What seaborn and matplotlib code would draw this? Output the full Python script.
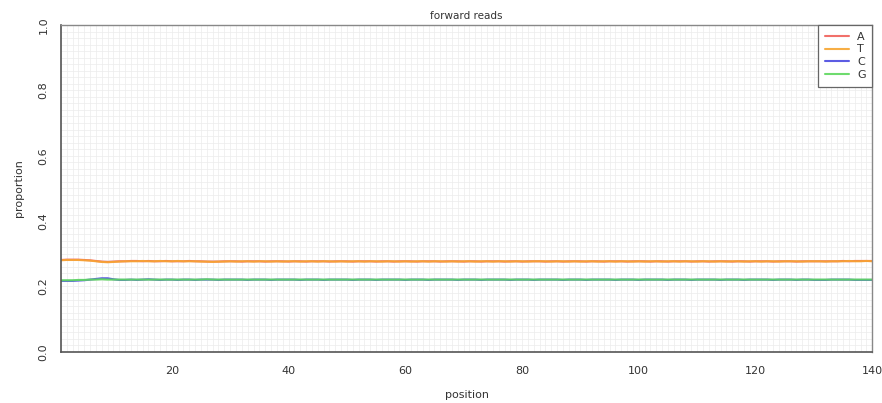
import numpy as np
import pandas as pd
import matplotlib
matplotlib.use("Agg")
import matplotlib.pyplot as plt
import seaborn as sns
from matplotlib.ticker import MultipleLocator

# Per-position base composition of the forward reads
positions = list(range(1, 141))

prop_A = [
    0.281, 0.282, 0.282, 0.282, 0.281, 0.280, 0.278, 0.276, 0.275, 0.276,
    0.277, 0.277, 0.278, 0.278, 0.277, 0.278, 0.277, 0.277, 0.278, 0.277,
    0.277, 0.277, 0.278, 0.277, 0.277, 0.276, 0.276, 0.276, 0.277, 0.277,
    0.277, 0.276, 0.277, 0.277, 0.277, 0.276, 0.277, 0.277, 0.277, 0.276,
    0.277, 0.277, 0.276, 0.277, 0.277, 0.277, 0.276, 0.277, 0.277, 0.277,
    0.276, 0.277, 0.277, 0.277, 0.276, 0.277, 0.277, 0.276, 0.277, 0.277,
    0.277, 0.276, 0.277, 0.277, 0.277, 0.276, 0.277, 0.277, 0.277, 0.276,
    0.277, 0.277, 0.276, 0.277, 0.277, 0.277, 0.276, 0.277, 0.277, 0.276,
    0.277, 0.277, 0.277, 0.276, 0.277, 0.277, 0.276, 0.277, 0.277, 0.277,
    0.276, 0.277, 0.277, 0.276, 0.277, 0.277, 0.277, 0.276, 0.277, 0.277,
    0.277, 0.276, 0.277, 0.277, 0.276, 0.277, 0.277, 0.277, 0.276, 0.277,
    0.277, 0.276, 0.277, 0.277, 0.277, 0.276, 0.277, 0.277, 0.276, 0.277,
    0.277, 0.277, 0.276, 0.277, 0.277, 0.277, 0.276, 0.277, 0.277, 0.277,
    0.277, 0.277, 0.277, 0.277, 0.278, 0.277, 0.278, 0.278, 0.278, 0.278,
]

prop_T = [
    0.280, 0.281, 0.281, 0.281, 0.280, 0.279, 0.277, 0.275, 0.274, 0.275,
    0.276, 0.277, 0.277, 0.277, 0.278, 0.277, 0.277, 0.278, 0.277, 0.277,
    0.278, 0.277, 0.277, 0.277, 0.276, 0.276, 0.275, 0.276, 0.276, 0.277,
    0.276, 0.277, 0.277, 0.276, 0.277, 0.277, 0.276, 0.277, 0.276, 0.277,
    0.277, 0.276, 0.277, 0.277, 0.276, 0.277, 0.277, 0.276, 0.277, 0.276,
    0.277, 0.277, 0.276, 0.277, 0.277, 0.276, 0.277, 0.277, 0.276, 0.277,
    0.276, 0.277, 0.277, 0.276, 0.277, 0.277, 0.276, 0.277, 0.276, 0.277,
    0.277, 0.276, 0.277, 0.277, 0.276, 0.277, 0.277, 0.276, 0.277, 0.277,
    0.276, 0.277, 0.277, 0.277, 0.276, 0.277, 0.277, 0.276, 0.277, 0.276,
    0.277, 0.277, 0.276, 0.277, 0.277, 0.276, 0.277, 0.277, 0.276, 0.277,
    0.276, 0.277, 0.277, 0.276, 0.277, 0.277, 0.276, 0.277, 0.277, 0.276,
    0.277, 0.277, 0.276, 0.277, 0.276, 0.277, 0.277, 0.276, 0.277, 0.277,
    0.276, 0.277, 0.277, 0.276, 0.277, 0.277, 0.277, 0.276, 0.277, 0.277,
    0.277, 0.276, 0.277, 0.277, 0.277, 0.278, 0.277, 0.277, 0.278, 0.277,
]

prop_C = [
    0.217, 0.217, 0.217, 0.218, 0.219, 0.221, 0.223, 0.225, 0.225, 0.222,
    0.220, 0.220, 0.221, 0.220, 0.221, 0.222, 0.221, 0.220, 0.221, 0.221,
    0.220, 0.221, 0.221, 0.220, 0.221, 0.221, 0.221, 0.220, 0.221, 0.221,
    0.221, 0.221, 0.220, 0.221, 0.221, 0.221, 0.220, 0.221, 0.221, 0.221,
    0.221, 0.220, 0.221, 0.221, 0.221, 0.220, 0.221, 0.221, 0.221, 0.221,
    0.220, 0.221, 0.221, 0.221, 0.220, 0.221, 0.221, 0.221, 0.221, 0.220,
    0.221, 0.221, 0.221, 0.220, 0.221, 0.221, 0.221, 0.221, 0.220, 0.221,
    0.221, 0.221, 0.220, 0.221, 0.221, 0.221, 0.221, 0.220, 0.221, 0.221,
    0.221, 0.220, 0.221, 0.221, 0.221, 0.221, 0.220, 0.221, 0.221, 0.221,
    0.220, 0.221, 0.221, 0.221, 0.221, 0.220, 0.221, 0.221, 0.221, 0.220,
    0.221, 0.221, 0.221, 0.221, 0.220, 0.221, 0.221, 0.221, 0.220, 0.221,
    0.221, 0.221, 0.221, 0.220, 0.221, 0.221, 0.221, 0.220, 0.221, 0.221,
    0.221, 0.221, 0.220, 0.221, 0.221, 0.221, 0.220, 0.221, 0.221, 0.220,
    0.220, 0.220, 0.221, 0.221, 0.221, 0.221, 0.220, 0.220, 0.220, 0.220,
]

prop_G = [
    0.219, 0.219, 0.219, 0.220, 0.220, 0.221, 0.221, 0.222, 0.221, 0.221,
    0.221, 0.221, 0.221, 0.221, 0.221, 0.221, 0.221, 0.221, 0.221, 0.221,
    0.221, 0.221, 0.221, 0.221, 0.221, 0.222, 0.221, 0.221, 0.221, 0.221,
    0.221, 0.221, 0.221, 0.221, 0.221, 0.221, 0.221, 0.221, 0.221, 0.221,
    0.221, 0.221, 0.221, 0.221, 0.221, 0.221, 0.221, 0.221, 0.221, 0.221,
    0.221, 0.221, 0.221, 0.221, 0.221, 0.221, 0.221, 0.221, 0.221, 0.221,
    0.221, 0.221, 0.221, 0.221, 0.221, 0.221, 0.221, 0.221, 0.221, 0.221,
    0.221, 0.221, 0.221, 0.221, 0.221, 0.221, 0.221, 0.221, 0.221, 0.221,
    0.221, 0.221, 0.221, 0.221, 0.221, 0.221, 0.221, 0.221, 0.221, 0.221,
    0.221, 0.221, 0.221, 0.221, 0.221, 0.221, 0.221, 0.221, 0.221, 0.221,
    0.221, 0.221, 0.221, 0.221, 0.221, 0.221, 0.221, 0.221, 0.221, 0.221,
    0.221, 0.221, 0.221, 0.221, 0.221, 0.221, 0.221, 0.221, 0.221, 0.221,
    0.221, 0.221, 0.221, 0.221, 0.221, 0.221, 0.221, 0.221, 0.221, 0.221,
    0.221, 0.221, 0.221, 0.221, 0.221, 0.221, 0.221, 0.221, 0.221, 0.221,
]

bases = ["A", "T", "C", "G"]
base_colors = {"A": "#f0605a", "T": "#f7a531", "C": "#4a4ae0", "G": "#5ed85e"}

df = pd.concat(
    [
        pd.DataFrame({"position": positions, "proportion": vals, "base": b})
        for b, vals in zip(bases, [prop_A, prop_T, prop_C, prop_G])
    ],
    ignore_index=True,
)

sns.set_style("white")
plt.rcParams["font.family"] = ["DejaVu Sans"]

fig = plt.figure(figsize=(8.82, 4.03), dpi=100)
ax = fig.add_axes([0.069, 0.127, 0.920, 0.811])

# Fine background grid: one cell per position, 0.02 in proportion
ax.xaxis.set_minor_locator(MultipleLocator(1))
ax.yaxis.set_minor_locator(MultipleLocator(0.02))
ax.grid(which="both", color="#ececec", linewidth=0.5)
ax.set_axisbelow(True)

sns.lineplot(
    data=df, x="position", y="proportion", hue="base", hue_order=bases,
    palette=base_colors, linewidth=1.5, alpha=0.9, ax=ax,
)

ax.set_xlim(1, 140)
ax.set_ylim(0, 1)
ax.set_xticks([20, 40, 60, 80, 100, 120, 140])
ax.set_yticks([0.0, 0.2, 0.4, 0.6, 0.8, 1.0])
ax.set_yticklabels(["0.0", "0.2", "0.4", "0.6", "0.8", "1.0"], rotation=90, va="center")
ax.tick_params(axis="both", which="major", length=4, width=0.8, color="#555555",
               labelsize=8, labelcolor="#333333", direction="out")
ax.tick_params(axis="both", which="minor", length=0)
ax.tick_params(axis="x", which="major", pad=6)
ax.tick_params(axis="y", which="major", pad=5)

for side, sp in ax.spines.items():
    sp.set_visible(True)
    sp.set_color("#555555" if side in ("left", "bottom") else "#888888")
    sp.set_linewidth(1.2 if side in ("left", "bottom") else 1.0)

ax.set_title("forward reads", fontsize=7.5, color="#333333", pad=4)
ax.set_xlabel("position", fontsize=8, color="#333333", labelpad=10)
ax.set_ylabel("proportion", fontsize=8, color="#333333", labelpad=10)

leg = ax.legend(
    title=None, loc="upper right", fontsize=8, frameon=True, fancybox=False,
    edgecolor="#666666", framealpha=1, handlelength=2.2, handletextpad=0.7,
    borderpad=0.6, labelspacing=0.25, borderaxespad=0,
)
leg.get_frame().set_linewidth(0.9)
for txt in leg.get_texts():
    txt.set_color("#333333")

fig.savefig("out.png", dpi=100)
